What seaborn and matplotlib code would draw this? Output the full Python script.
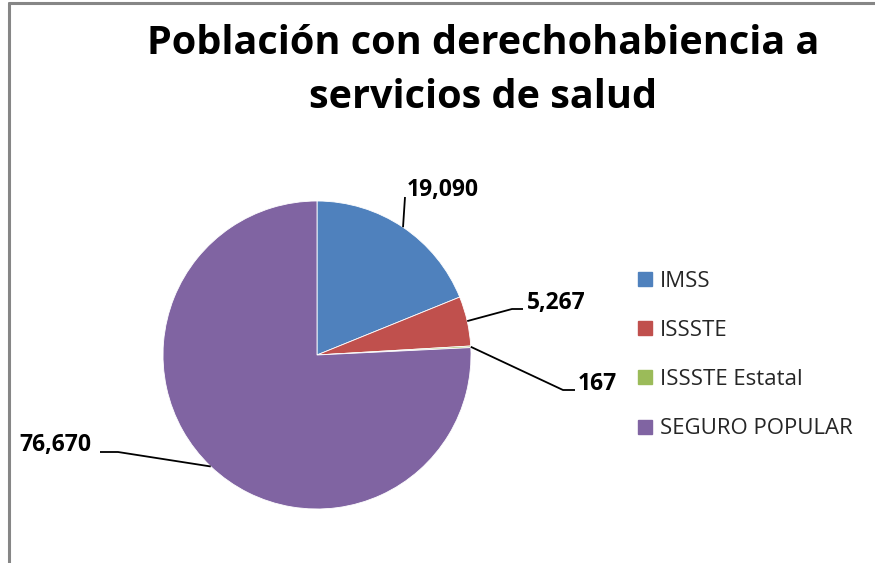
import numpy as np
import matplotlib
matplotlib.use("Agg")
import matplotlib.pyplot as plt
import seaborn as sns
from matplotlib.lines import Line2D

categories = ["IMSS", "ISSSTE", "ISSSTE Estatal", "SEGURO POPULAR"]
values = [19090, 5267, 167, 76670]
value_labels = ["19,090", "5,267", "167", "76,670"]
colors = ["#4F81BD", "#C0504D", "#9BBB59", "#8064A2"]
title = "Población con derechohabiencia a\nservicios de salud"

sns.set_theme(style="white")
plt.rcParams["font.family"] = ["Open Sans", "DejaVu Sans"]

W, H = 875, 563
fig = plt.figure(figsize=(W / 100, H / 100), dpi=100)
ax = fig.add_axes([0, 0, 1, 1])

cx, cy, R = 317, H - 355, 154
wedges, _ = ax.pie(values, colors=colors, startangle=90, counterclock=False,
                   center=(cx, cy), radius=R, frame=True,
                   wedgeprops=dict(linewidth=0.6, edgecolor="white"))
ax.set_xlim(0, W)
ax.set_ylim(0, H)
ax.set_aspect("equal")
ax.axis("off")

# label layout: (elbow x, elbow y, end x, end y, text x, text y, ha) in pixel coords
layout = [
    (405, 197, 405, 197, 407, 190, "left"),
    (512, 309, 523, 309, 527, 303, "left"),
    (563, 390, 575, 390, 578, 384, "left"),
    (118, 452, 100, 452, 91, 445, "right"),
]
for w, lab, (ex, ey, tx2, ty2, tx, ty, ha) in zip(wedges, value_labels, layout):
    ang = np.deg2rad((w.theta1 + w.theta2) / 2)
    ax0 = cx + R * np.cos(ang)
    ay0 = cy + R * np.sin(ang)
    ax.plot([ax0, ex, tx2], [ay0, H - ey, H - ty2], color="black", lw=1.3,
            solid_capstyle="butt")
    ax.text(tx, H - ty, lab, ha=ha, va="center", fontsize=16.5,
            fontweight="bold", color="black")

ax.text(483, H - 71, title, ha="center", va="center", fontsize=28.5,
        fontweight="bold", color="black", linespacing=1.5)

handles = [Line2D([0], [0], marker="s", linestyle="none", markersize=9.5,
                  markerfacecolor=c, markeredgecolor=c) for c in colors]
fig.legend(handles, categories, loc="center left",
           bbox_to_anchor=(614 / W, 1 - 355 / H), frameon=False,
           fontsize=16, handletextpad=0.15, labelspacing=1.27,
           handlelength=1.0)

# chart frame (top and left edges visible)
ax.plot([9, W], [H - 3, H - 3], color="#868686", lw=2.2, clip_on=False)
ax.plot([9, 9], [H - 3, 0], color="#868686", lw=2.2, clip_on=False)

fig.savefig("out.png", dpi=100, facecolor="white")
